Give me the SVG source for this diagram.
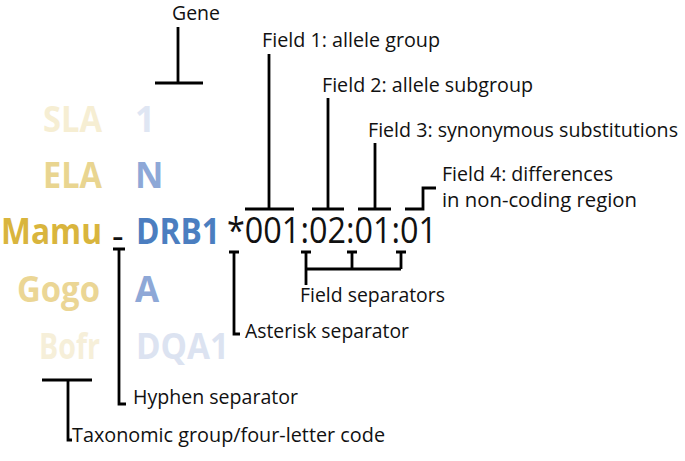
<svg xmlns="http://www.w3.org/2000/svg" width="685" height="461" viewBox="0 0 685 461">
<style>
.lbl{font-family:"Open Sans","Noto Sans",sans-serif;font-size:20px;fill:#111}
.big{font-family:"Open Sans","Noto Sans",sans-serif;font-size:36px;fill:#111}
.code{font-family:"Open Sans","Noto Sans",sans-serif;font-size:35px;font-weight:700}
.ln{fill:none;stroke:#000;stroke-width:2.8;stroke-linecap:butt}
</style>
<rect width="685" height="461" fill="#fff"/>
<g id="taxa">
<text class="code" x="43" y="132" textLength="59" lengthAdjust="spacingAndGlyphs" fill="#f6eed3">SLA</text>
<text class="code" x="43" y="188" textLength="59" lengthAdjust="spacingAndGlyphs" fill="#e9d590">ELA</text>
<text class="code" x="1" y="244" textLength="101" lengthAdjust="spacingAndGlyphs" fill="#d9b53d" font-size="34">Mamu</text>
<text class="code" x="17" y="302" textLength="83" lengthAdjust="spacingAndGlyphs" fill="#ebd695">Gogo</text>
<text class="code" x="39" y="359" textLength="61" lengthAdjust="spacingAndGlyphs" fill="#f6efd9">Bofr</text>
</g>
<g id="genes">
<text class="code" x="135" y="132" fill="#dfe6f3">1</text>
<text class="code" x="135" y="188" fill="#8ea8d7">N</text>
<text class="code" x="136" y="244" textLength="84" lengthAdjust="spacingAndGlyphs" fill="#4b7ec0">DRB1</text>
<text class="code" x="135" y="302" fill="#8ea8d7">A</text>
<text class="code" x="136" y="359" textLength="93" lengthAdjust="spacingAndGlyphs" fill="#dce3f1">DQA1</text>
</g>
<g id="hyphen"><text class="big" x="112" y="249" font-size="30">-</text></g>
<g id="allele"><text class="big" x="227" y="243" textLength="210" lengthAdjust="spacingAndGlyphs">*001:02:01:01</text></g>
<g id="label-gene"><text class="lbl" x="172" y="20" textLength="48" lengthAdjust="spacingAndGlyphs">Gene</text></g>
<g id="label-field1"><text class="lbl" x="262" y="47" textLength="178" lengthAdjust="spacingAndGlyphs">Field 1: allele group</text></g>
<g id="label-field2"><text class="lbl" x="322" y="92" textLength="211" lengthAdjust="spacingAndGlyphs">Field 2: allele subgroup</text></g>
<g id="label-field3"><text class="lbl" x="368" y="137" textLength="310" lengthAdjust="spacingAndGlyphs">Field 3: synonymous substitutions</text></g>
<g id="label-field4">
<text class="lbl" x="442" y="181" textLength="171" lengthAdjust="spacingAndGlyphs">Field 4: differences</text>
<text class="lbl" x="442" y="207" textLength="195" lengthAdjust="spacingAndGlyphs">in non-coding region</text>
</g>
<g id="label-fieldsep"><text class="lbl" x="300" y="302" textLength="145" lengthAdjust="spacingAndGlyphs">Field separators</text></g>
<g id="label-asterisk"><text class="lbl" x="245" y="338" textLength="164" lengthAdjust="spacingAndGlyphs">Asterisk separator</text></g>
<g id="label-hyphen"><text class="lbl" x="133" y="404" textLength="165" lengthAdjust="spacingAndGlyphs">Hyphen separator</text></g>
<g id="label-taxon"><text class="lbl" x="72" y="442" textLength="313" lengthAdjust="spacingAndGlyphs">Taxonomic group/four-letter code</text></g>
<g id="connectors" class="ln">
<path class="ln" d="M178 27V83M155 83H203"/>
<path class="ln" d="M269 54V209M245 209H294"/>
<path class="ln" d="M328 98V209M312 209H344"/>
<path class="ln" d="M375 143V209M358 209H391"/>
<path class="ln" d="M405 209H423V188H436"/>
<path class="ln" d="M301 252H311M347 252H357M396 252H406M306 252V285M352 252V269M401 252V269M306 269H401"/>
<path class="ln" d="M229 252H239M234 252V334H240"/>
<path class="ln" d="M113 249H125M119 249V404H126"/>
<path class="ln" d="M42 380H92M68 380V440H72"/>
</g>
</svg>
